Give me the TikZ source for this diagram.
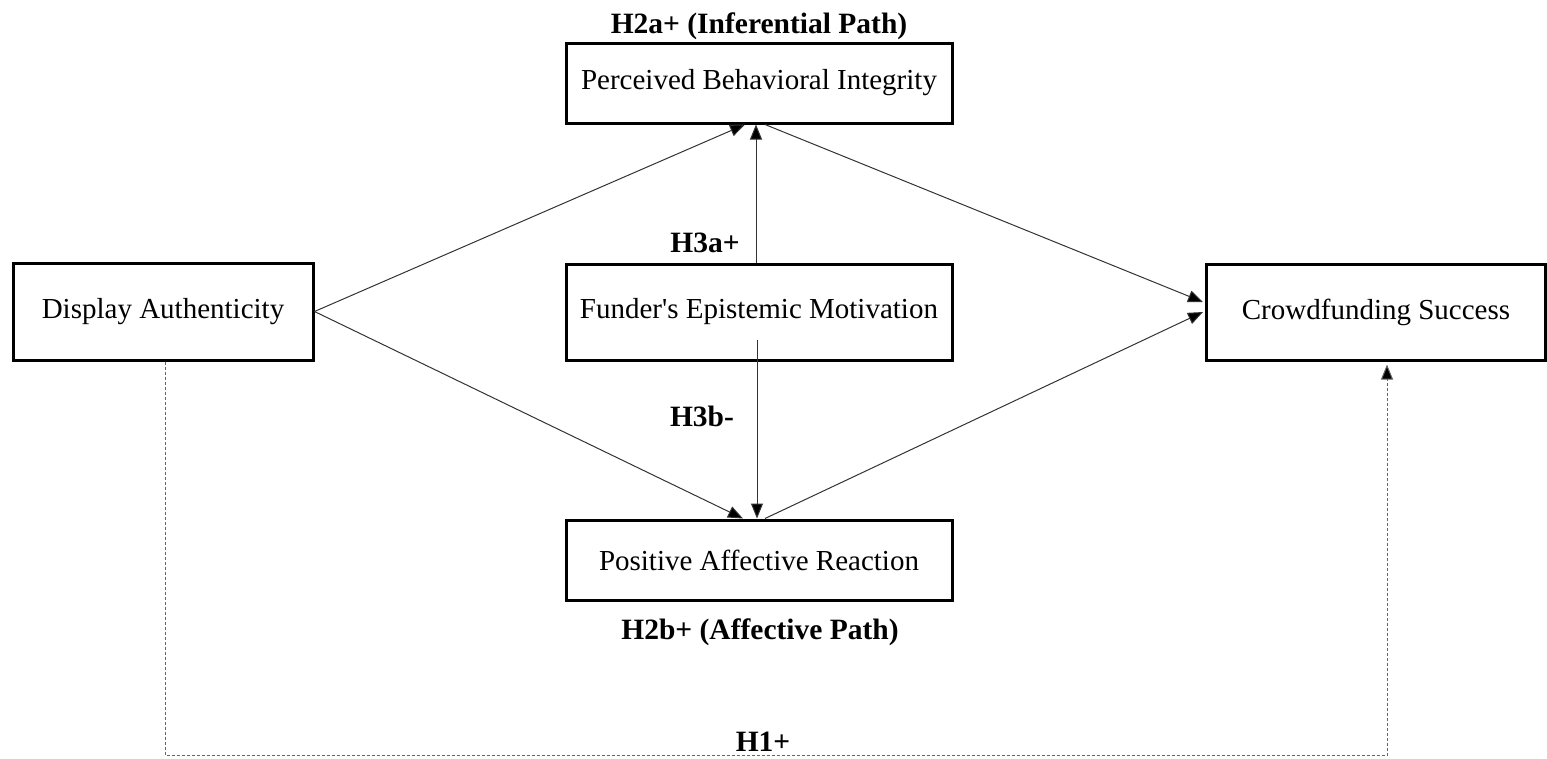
\documentclass[tikz,border=0pt]{standalone}
\usepackage{fontspec}
\setmainfont{Liberation Serif}[Ligatures=TeXOff]
\usetikzlibrary{arrows.meta,calc}
\begin{document}
\begin{tikzpicture}[x=1pt,y=-1pt,
  box/.style={draw=black,line width=3pt,rectangle,inner sep=0pt,font=\fontsize{29}{33}\selectfont},
  lab/.style={font=\fontsize{29.5}{33}\selectfont\bfseries,inner sep=0pt},
  arr/.style={draw=black!80,line width=1pt,-{Triangle[length=15pt,width=12pt,fill=black]}},
  dasharr/.style={draw=black!60,line width=1pt,dash pattern=on 3pt off 2pt,-{Triangle[length=15pt,width=12pt,fill=black]}}]
\useasboundingbox (0,0) rectangle (1547,758);
\node[box,minimum width=386pt,minimum height=80pt] (pbi) at (759,83) {Perceived Behavioral Integrity};
\node[box,minimum width=300pt,minimum height=97pt] (da) at (163,311.5) {Display Authenticity};
\node[box,minimum width=386pt,minimum height=96pt] (fem) at (759,312) {Funder's Epistemic Motivation};
\node[box,minimum width=339pt,minimum height=96pt] (cs) at (1376,312) {Crowdfunding Success};
\node[box,minimum width=386pt,minimum height=80pt] (par) at (759,560) {Positive Affective Reaction};
\node[lab] (h2a) at (759,26) {H2a+ (Inferential Path)};
\node[lab] (h3a) at (705,243) {H3a+};
\node[lab] (h3b) at (702,416) {H3b-};
\node[lab] (h2b) at (760,632) {H2b+ (Affective Path)};
\node[lab] (h1) at (763,742) {H1+};
\coordinate (c1) at (165,755);
\coordinate (c2) at (1387,755);
\draw[arr] (da.east) -- ($(pbi.south)+(-14,0)$);
\draw[arr] (da.east) -- ($(par.north)+(-16,0)$);
\draw[arr] ($(fem.north)+(-3,0)$) -- ($(pbi.south)+(-3,0)$);
\draw[arr] ($(fem.center)+(-2,28)$) -- ($(par.north)+(-2,0)$);
\draw[arr] ($(pbi.south)+(6,0)$) -- ($(cs.west)+(-2,-10)$);
\draw[arr] ($(par.north)+(6,0)$) -- ($(cs.west)+(-2,0)$);
\draw[dasharr] ($(da.south)+(2,0)$) -- (c1) -- (c2) -- ($(cs.south)+(11,3)$);
\end{tikzpicture}
\end{document}
